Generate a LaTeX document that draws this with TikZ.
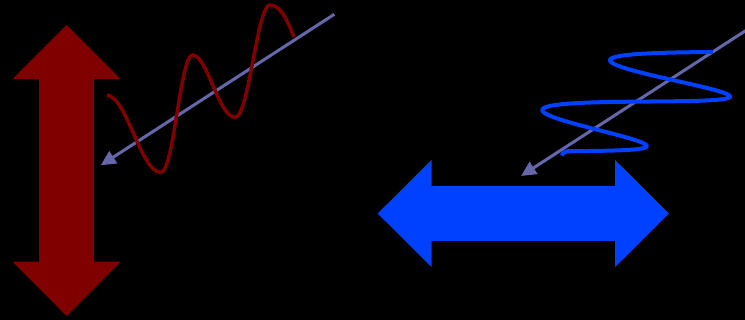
\documentclass[tikz,border=0pt]{standalone}
\usetikzlibrary{arrows.meta}
\definecolor{darkred}{RGB}{128,0,0}
\definecolor{vivblue}{RGB}{0,64,255}
\definecolor{beamcol}{RGB}{102,102,170}
\tikzset{
  beam/.style={draw=beamcol, line width=3pt, -{Triangle[length=15pt,width=14pt]}},
  redwave/.style={draw=darkred, line width=3.5pt},
  bluewave/.style={draw=vivblue, line width=4pt},
  bigarrowred/.style={fill=darkred},
  bigarrowblue/.style={fill=vivblue},
}
\begin{document}
\begin{tikzpicture}[x=1pt,y=-1pt]
\fill[black] (0,0) rectangle (745,320);
\clip (0,0) rectangle (745,320);

% vertical red double arrow
\fill[bigarrowred] (66.7,25) -- (120.7,79) -- (94.2,79) -- (94.2,261.7) -- (120.7,261.7)
  -- (66.7,316) -- (12.7,261.7) -- (39.2,261.7) -- (39.2,79) -- (12.7,79) -- cycle;

% horizontal blue double arrow
\fill[bigarrowblue] (377.7,213.5) -- (431.7,159.8) -- (431.7,186.2) -- (615,186.2) -- (615,159.8)
  -- (669,213.5) -- (615,267.2) -- (615,240.8) -- (431.7,240.8) -- (431.7,267.2) -- cycle;

% propagation directions
\coordinate (lstart) at (334.3,14.3);
\coordinate (lend) at (100.7,165.3);
\coordinate (rstart) at (757,23.3);
\coordinate (rend) at (521,176);
\draw[beam] (lstart) -- (lend);
\draw[beam] (rstart) -- (rend);

% linearly polarised wave
\draw[redwave] (107,95) .. controls (127,97) and (141,172.3) .. (160.7,172.3)
  .. controls (174,172.3) and (180,55) .. (192.7,55)
  .. controls (207,55) and (219,117.3) .. (235,117.3)
  .. controls (249,117.3) and (257,5) .. (270,5)
  .. controls (282,5) and (289,25) .. (294,37);

% helical wave
\draw[bluewave] (561.7,155.5) .. controls (563,152.3) and (565,151.5) .. (568.6,151.5)
  -- plot[domain=1.70:14.176, samples=320, variable=\t]
  ({539.6 + 12.02*\t - (64.07 + 1.258*\t)*cos(\t r)},
   {165.2 - 7.9*\t - 7*cos(\t r) - 1.5*sin(\t r)});
\end{tikzpicture}
\end{document}
